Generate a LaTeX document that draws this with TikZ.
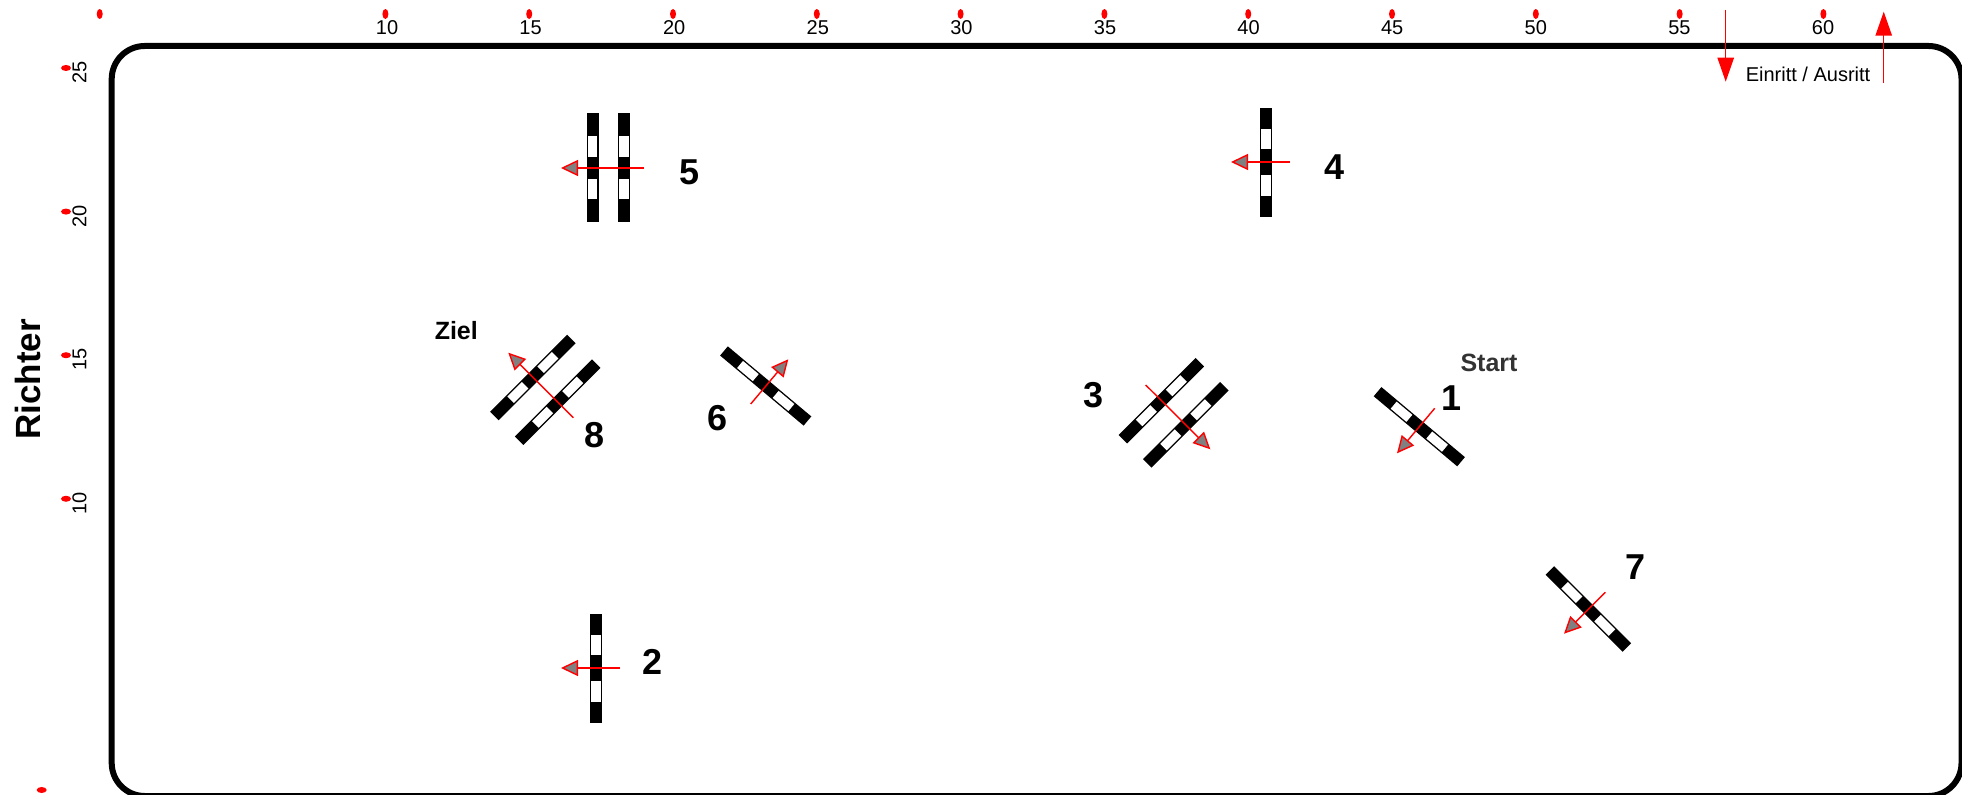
\documentclass[tikz,border=0pt]{standalone}
\usepackage{fontspec}
\setmainfont{Liberation Sans}
\usetikzlibrary{arrows.meta,shapes.geometric}

\begin{document}
\begin{tikzpicture}[
  x=0.5pt, y=-0.5pt,
  frame/.style={draw, line width=3pt, rounded corners=16.5pt},
  tick/.style={fill=red, ellipse, minimum width=3pt, minimum height=5pt, inner sep=0pt},
  num/.style={font=\fontsize{18}{18}\selectfont\bfseries},
  tag/.style={font=\fontsize{12.5}{13}\selectfont\bfseries},
  scale label/.style={font=\fontsize{10}{11}\selectfont},
  flow/.style={draw=red, line width=0.7pt, -{Triangle[length=8.5pt, width=8pt, line width=0.7pt, fill=gray]}},
  door/.style={draw=red, line width=0.7pt, -{Triangle[length=12pt, width=8.2pt, fill=red]}},
  pics/gate/.style={code={
    \fill[black] (-54.5,-6) rectangle (54.5,6);
    \fill[white] ({#1/2},-4.6) rectangle ({#1/2+20.5},4.6);
    \fill[white] ({-#1/2},-4.6) rectangle ({-#1/2-20.5},4.6);
  }}
]
\clip (0,0) rectangle (1962,795);

% frame
\draw[frame] (111.7,46) rectangle (1961.5,796);

% scale along the top
\node[tick] (tx0) at (99.7,14) {};
\foreach \v/\px/\tx in {10/387/385.4,15/530.6/529.2,20/674.2/673,25/817.8/816.8,30/961.4/960.6,35/1105/1104.4,40/1248.6/1248.2,45/1392.2/1392,50/1535.8/1535.8,55/1679.4/1679.6,60/1823/1823.4} {
  \node[tick] (tx\v) at (\tx,14) {};
  \node[scale label] (lx\v) at (\px,27.5) {\v};
}
% scale along the left
\foreach \v/\py in {25/68,20/211.6,15/355.2,10/498.8} {
  \node[tick, rotate=90] (ty\v) at (66,\py) {};
  \node[scale label, rotate=90] (ly\v) at (79.5,\py+4.5) {\v};
}
\node[tick, rotate=90] (ty5) at (41.7,790) {};
\node[font=\fontsize{17.5}{18}\selectfont\bfseries, rotate=90] (richter) at (27.5,379.5) {Richter};

% gates
\pic (g1) at (1419.3,426.7) [rotate=-40] {gate=26};
\pic (g2) at (596,668.3) [rotate=90] {gate=26};
\pic (g3a) at (1161.3,400.7) [rotate=45] {gate=22};
\pic (g3b) at (1185.8,424.8) [rotate=45] {gate=22};
\pic (g4) at (1266,162.3) [rotate=90] {gate=26};
\pic (g5a) at (592.6,168) [rotate=90] {gate=22};
\pic (g5b) at (624,168) [rotate=90] {gate=22};
\pic (g6) at (765.7,386) [rotate=-40] {gate=26};
\pic (g7) at (1588.3,609) [rotate=-45] {gate=26};
\pic (g8a) at (532.9,377.5) [rotate=45] {gate=22};
\pic (g8b) at (557.7,402.2) [rotate=45] {gate=22};

% driving direction
\coordinate (a1s) at (1434.7,408.3);
\coordinate (a1e) at (1397,453.3);
\coordinate (a2s) at (619.7,668);
\coordinate (a2e) at (561,668);
\coordinate (a3s) at (1145.7,385);
\coordinate (a3e) at (1210.3,449.3);
\coordinate (a4s) at (1290,162);
\coordinate (a4e) at (1231,162);
\coordinate (a5s) at (644,168);
\coordinate (a5e) at (561,168);
\coordinate (a6s) at (750.7,404);
\coordinate (a6e) at (788.3,359.3);
\coordinate (a7s) at (1605.3,592.3);
\coordinate (a7e) at (1564,633.7);
\coordinate (a8s) at (573.3,417.7);
\coordinate (a8e) at (508.3,352.7);
\foreach \i in {1,...,8} {
  \draw[flow] (a\i s) -- (a\i e);
}

% numbers
\node[num] (n1) at (1451,397.8) {1};
\node[num] (n2) at (652.7,662) {2};
\node[num] (n3) at (1093.4,395.4) {3};
\node[num] (n4) at (1334.7,166.7) {4};
\node[num] (n5) at (689,172) {5};
\node[num] (n6) at (717.5,418.3) {6};
\node[num] (n7) at (1635.3,566.7) {7};
\node[num] (n8) at (594.8,435) {8};
\node[tag] (ziel) at (456.3,330.3) {Ziel};
\node[tag, text=black!80] (start) at (1489,362.5) {Start};

% entry and exit
\coordinate (ins) at (1725.7,10);
\coordinate (ine) at (1725.7,81.7);
\coordinate (outs) at (1883.7,82.7);
\coordinate (oute) at (1883.7,11.7);
\draw[door] (ins) -- (ine);
\draw[door] (outs) -- (oute);
\node[scale label] (gate) at (1808,74) {Einritt / Ausritt};
\end{tikzpicture}
\end{document}
